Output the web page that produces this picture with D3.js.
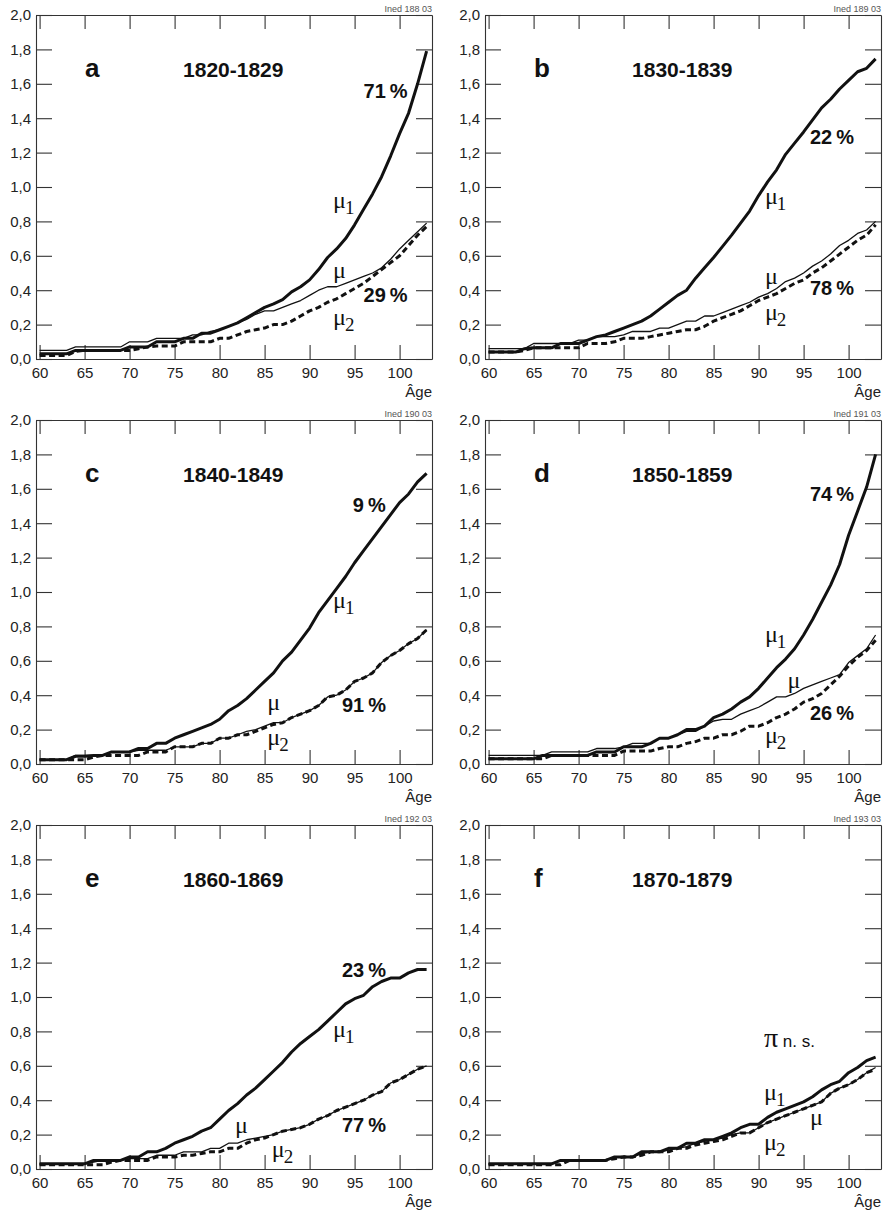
<!DOCTYPE html>
<html>
<head>
<meta charset="utf-8">
<script src="https://cdn.jsdelivr.net/npm/d3@7"></script>
<style>
  body { margin: 0; background: #fff; }
  svg { display: block; }
  .axis path, .axis line { stroke: #333; stroke-width: 1.1; }
  .axis text { font-family: "Liberation Sans", Arial, sans-serif; font-size: 15px; fill: #222; }
</style>
</head>
<body>
<div id="chart"></div>
<script>
// Ages read on x axis
var ages = [60,61,62,63,64,65,66,67,68,69,70,71,72,73,74,75,76,77,78,79,80,81,82,83,84,85,86,87,88,89,90,91,92,93,94,95,96,97,98,99,100,101,102,103];
var xTicks = [60,65,70,75,80,85,90,95,100];
var yTicks = [0,0.2,0.4,0.6,0.8,1.0,1.2,1.4,1.6,1.8,2.0];

// Panel a : 1820-1829
var a_mu1 = [.03,.03,.03,.03,.05,.05,.05,.05,.05,.05, .07,.07,.07,.10,.10,.10,.12,.12,.15,.15, .17,.19,.21,.24,.27,.30,.32,.345,.39,.42, .46,.52,.59,.64,.70,.78,.87,.96,1.06,1.18, 1.31,1.43,1.60,1.79];
var a_mu  = [.05,.05,.05,.05,.07,.07,.07,.07,.07,.07, .10,.10,.10,.12,.12,.12,.12,.14,.14,.16, .17,.19,.21,.23,.26,.28,.28,.30,.32,.34, .37,.40,.42,.42,.44,.46,.48,.50,.53,.58, .64,.69,.74,.79];
var a_mu2 = [.02,.02,.02,.02,.045,.05,.05,.05,.05,.05, .05,.06,.07,.075,.075,.075,.10,.10,.10,.10, .12,.12,.14,.16,.17,.18,.20,.20,.22,.25, .28,.30,.33,.35,.38,.41,.44,.48,.52,.56, .60,.66,.72,.77];

// Panel b : 1830-1839
var b_mu1 = [.04,.04,.04,.04,.06,.065,.065,.065,.09,.09, .09,.11,.13,.14,.16,.18,.20,.22,.25,.29, .33,.37,.40,.47,.53,.59,.655,.72,.79,.86, .95,1.03,1.10,1.19,1.255,1.32,1.39,1.46,1.51,1.57, 1.62,1.67,1.69,1.745];
var b_mu  = [.06,.06,.06,.06,.06,.09,.09,.09,.09,.09, .11,.11,.13,.13,.13,.14,.16,.16,.16,.18, .18,.20,.22,.22,.25,.25,.27,.29,.31,.33, .36,.38,.41,.45,.47,.50,.54,.57,.61,.66, .69,.73,.75,.80];
var b_mu2 = [.04,.04,.04,.04,.05,.065,.065,.065,.065,.065, .065,.09,.09,.09,.10,.12,.12,.12,.13,.14, .15,.16,.17,.17,.19,.22,.24,.26,.28,.31, .34,.36,.38,.41,.44,.46,.50,.53,.57,.61, .65,.69,.72,.78];

// Panel c : 1840-1849
var c_mu1 = [.025,.025,.025,.025,.045,.045,.05,.05,.07,.07, .07,.09,.09,.12,.12,.15,.17,.19,.21,.23, .26,.31,.34,.38,.43,.48,.53,.60,.65,.72, .79,.88,.95,1.02,1.09,1.17,1.24,1.31,1.38,1.45, 1.52,1.57,1.64,1.69];
var c_mu  = [.025,.025,.025,.025,.05,.05,.05,.05,.07,.07, .07,.08,.08,.08,.08,.10,.10,.10,.12,.12, .15,.15,.17,.19,.20,.22,.24,.24,.27,.29, .31,.34,.39,.40,.43,.48,.50,.53,.59,.63, .66,.70,.73,.78];
var c_mu2 = [.025,.025,.025,.025,.025,.025,.04,.05,.05,.05, .05,.05,.07,.07,.07,.10,.10,.10,.12,.12, .15,.15,.17,.17,.19,.21,.23,.24,.27,.29, .31,.34,.39,.40,.43,.48,.50,.53,.59,.63, .66,.70,.73,.78];

// Panel d : 1850-1859
var d_mu1 = [.03,.03,.03,.03,.03,.03,.05,.05,.05,.05, .05,.05,.07,.07,.07,.10,.10,.10,.12,.15, .15,.17,.20,.20,.22,.27,.29,.32,.36,.39, .44,.50,.56,.61,.67,.75,.84,.94,1.04,1.16, 1.33,1.47,1.61,1.80];
var d_mu  = [.05,.05,.05,.05,.05,.05,.05,.07,.07,.07, .07,.07,.09,.09,.09,.10,.12,.12,.12,.15, .15,.17,.19,.19,.22,.25,.26,.26,.29,.31, .33,.36,.39,.39,.41,.44,.46,.48,.50,.52, .59,.63,.67,.75];
var d_mu2 = [.03,.03,.03,.03,.03,.03,.03,.05,.05,.05, .05,.05,.05,.05,.05,.075,.075,.075,.075,.09, .10,.10,.12,.13,.15,.15,.17,.17,.19,.22, .22,.24,.27,.29,.32,.36,.38,.41,.46,.51, .57,.62,.66,.72];

// Panel e : 1860-1869
var e_mu1 = [.03,.03,.03,.03,.03,.03,.05,.05,.05,.05, .07,.07,.10,.10,.12,.15,.17,.19,.22,.24, .29,.34,.38,.43,.47,.52,.57,.62,.68,.73, .77,.81,.86,.91,.96,.99,1.01,1.06,1.09,1.11, 1.11,1.14,1.16,1.16];
var e_mu  = [.03,.03,.03,.03,.03,.03,.04,.05,.05,.05, .06,.06,.06,.08,.08,.08,.10,.10,.10,.12, .12,.15,.15,.17,.18,.19,.20,.22,.23,.24, .26,.29,.31,.34,.36,.38,.40,.43,.45,.50, .52,.55,.58,.60];
var e_mu2 = [.025,.025,.025,.025,.025,.025,.025,.025,.04,.05, .05,.05,.05,.07,.07,.07,.08,.08,.09,.10, .10,.12,.12,.15,.17,.18,.20,.22,.23,.24, .26,.29,.31,.34,.36,.38,.40,.43,.45,.50, .52,.55,.58,.60];

// Panel f : 1870-1879
var f_mu1 = [.03,.03,.03,.03,.03,.03,.03,.03,.05,.05, .05,.05,.05,.05,.07,.07,.07,.10,.10,.10, .12,.12,.15,.15,.17,.17,.19,.21,.24,.26, .26,.30,.33,.35,.37,.39,.42,.46,.49,.51, .56,.59,.63,.65];
var f_mu  = [.03,.03,.03,.03,.03,.03,.03,.03,.05,.05, .05,.05,.05,.05,.07,.07,.07,.09,.10,.10, .11,.12,.13,.15,.16,.17,.18,.20,.21,.21, .24,.27,.29,.31,.33,.35,.37,.39,.44,.47, .49,.52,.56,.59];
var f_mu2 = [.025,.025,.025,.025,.025,.025,.025,.025,.025,.05, .05,.05,.05,.05,.06,.07,.07,.08,.10,.10, .10,.12,.12,.14,.15,.16,.17,.19,.21,.21, .24,.27,.29,.31,.33,.35,.37,.39,.44,.47, .49,.52,.56,.58];

var letters = ['a','b','c','d','e','f'];
var periods = ['1820-1829','1830-1839','1840-1849','1850-1859','1860-1869','1870-1879'];
var codes = ['Ined 188 03','Ined 189 03','Ined 190 03','Ined 191 03','Ined 192 03','Ined 193 03'];

// annotations [text, age, value, kind] ; kind '1'/'2' = subscript of mu
var notes_a = [['71\u2009%',96,1.52,'pct'],['μ',92.6,0.88,'1'],['μ',92.6,0.47,''],['29\u2009%',96,0.333,'pct'],['μ',92.6,0.20,'2']];
var notes_b = [['22\u2009%',95.7,1.252,'pct'],['μ',90.7,0.903,'1'],['μ',90.7,0.438,''],['78\u2009%',95.7,0.374,'pct'],['μ',90.7,0.229,'2']];
var notes_c = [['9\u2009%',94.8,1.467,'pct'],['μ',92.6,0.909,'1'],['μ',85.3,0.316,''],['91\u2009%',93.6,0.304,'pct'],['μ',85.3,0.112,'2']];
var notes_d = [['74\u2009%',95.7,1.531,'pct'],['μ',90.7,0.711,'1'],['μ',93.2,0.444,''],['26\u2009%',95.7,0.258,'pct'],['μ',90.7,0.124,'2']];
var notes_e = [['23\u2009%',93.6,1.118,'pct'],['μ',92.6,0.769,'1'],['μ',81.7,0.211,''],['77\u2009%',93.6,0.217,'pct'],['μ',85.8,0.072,'2']];
var notes_f = [['π',90.6,0.711,'pi'],['μ',90.6,0.403,'1'],['μ',95.7,0.258,''],['μ',90.6,0.112,'2']];

var panels = [
  {mu1: a_mu1, mu: a_mu, mu2: a_mu2, notes: notes_a},
  {mu1: b_mu1, mu: b_mu, mu2: b_mu2, notes: notes_b},
  {mu1: c_mu1, mu: c_mu, mu2: c_mu2, notes: notes_c},
  {mu1: d_mu1, mu: d_mu, mu2: d_mu2, notes: notes_d},
  {mu1: e_mu1, mu: e_mu, mu2: e_mu2, notes: notes_e},
  {mu1: f_mu1, mu: f_mu, mu2: f_mu2, notes: notes_f}
];

var W = 884, H = 1214;
var colX = [0, 449], rowY = [0, 405, 810];
var pLeft = 36, pRight = 432, pTop = 15, pBottom = 359;

var svg = d3.select('#chart').append('svg')
    .attr('width', W).attr('height', H);

var x = d3.scaleLinear().domain([59.6, 103.6]).range([pLeft, pRight]);
var y = d3.scaleLinear().domain([0, 2]).range([pBottom, pTop]);
var fmt = function(d) { return d3.format('.1f')(d).replace('.', ','); };

var line = d3.line()
    .x(function(d) { return x(d[0]); })
    .y(function(d) { return y(d[1]); });

panels.forEach(function(p, i) {
  var g = svg.append('g')
      .attr('transform', 'translate(' + colX[i % 2] + ',' + rowY[Math.floor(i / 2)] + ')');

  // frame + inward ticks on all four sides
  g.append('g').attr('class', 'axis')
      .attr('transform', 'translate(' + pLeft + ',0)')
      .call(d3.axisLeft(y).tickValues(yTicks).tickSizeInner(-16).tickSizeOuter(0).tickPadding(5).tickFormat(fmt));
  g.append('g').attr('class', 'axis')
      .attr('transform', 'translate(' + pRight + ',0)')
      .call(d3.axisRight(y).tickValues(yTicks).tickSizeInner(-16).tickSizeOuter(0).tickFormat(''));
  g.append('g').attr('class', 'axis')
      .attr('transform', 'translate(0,' + pBottom + ')')
      .call(d3.axisBottom(x).tickValues(xTicks).tickSizeInner(-14).tickSizeOuter(0).tickPadding(8).tickFormat(d3.format('d')));
  g.append('g').attr('class', 'axis')
      .attr('transform', 'translate(0,' + pTop + ')')
      .call(d3.axisTop(x).tickValues(xTicks).tickSizeInner(-14).tickSizeOuter(0).tickFormat(''));

  g.append('text')
      .attr('x', pRight).attr('y', pBottom + 38)
      .attr('text-anchor', 'end')
      .style('font-family', '"Liberation Sans", Arial, sans-serif')
      .style('font-size', '15px').style('fill', '#222')
      .text('Âge');

  g.append('text')
      .attr('x', pRight).attr('y', pTop - 3)
      .attr('text-anchor', 'end')
      .style('font-family', '"Liberation Sans", Arial, sans-serif')
      .style('font-size', '9px').style('fill', '#555')
      .text(codes[i]);

  // series lines
  var series = [
    {v: p.mu2, w: 3, dash: '6,3.5'},
    {v: p.mu, w: 1.3, dash: null},
    {v: p.mu1, w: 3, dash: null}
  ];
  series.forEach(function(s) {
    g.append('path')
        .datum(ages.map(function(a, k) { return [a, s.v[k]]; }))
        .attr('fill', 'none')
        .attr('stroke', '#111')
        .attr('stroke-width', s.w)
        .attr('stroke-linejoin', 'round')
        .attr('stroke-dasharray', s.dash)
        .attr('d', line);
  });

  // panel letter and period
  g.append('text')
      .attr('x', x(65.05)).attr('y', y(1.641))
      .style('font-family', '"Liberation Sans", Arial, sans-serif')
      .style('font-weight', 'bold').style('font-size', '26px').style('fill', '#111')
      .text(letters[i]);
  g.append('text')
      .attr('x', x(75.94)).attr('y', y(1.641))
      .style('font-family', '"Liberation Sans", Arial, sans-serif')
      .style('font-weight', 'bold').style('font-size', '21px').style('fill', '#111')
      .text(periods[i]);

  // annotations
  p.notes.forEach(function(n) {
    var t = g.append('text')
        .attr('x', x(n[1])).attr('y', y(n[2]))
        .style('fill', '#111');
    if (n[3] === 'pct') {
      t.style('font-family', '"Liberation Sans", Arial, sans-serif')
       .style('font-weight', 'bold').style('font-size', '20px')
       .text(n[0]);
    } else if (n[3] === 'pi') {
      t.append('tspan')
       .style('font-family', '"Liberation Serif", "Times New Roman", serif')
       .style('font-size', '28px').text(n[0]);
      t.append('tspan')
       .style('font-family', '"Liberation Sans", Arial, sans-serif')
       .style('font-size', '17px').text(' n. s.');
    } else {
      t.append('tspan')
       .style('font-family', '"Liberation Serif", "Times New Roman", serif')
       .style('font-size', '24px').text(n[0]);
      if (n[3]) {
        t.append('tspan')
         .attr('dy', 6).attr('dx', -1)
         .style('font-family', '"Liberation Serif", "Times New Roman", serif')
         .style('font-size', '19px').text(n[3]);
      }
    }
  });
});
</script>
</body>
</html>
